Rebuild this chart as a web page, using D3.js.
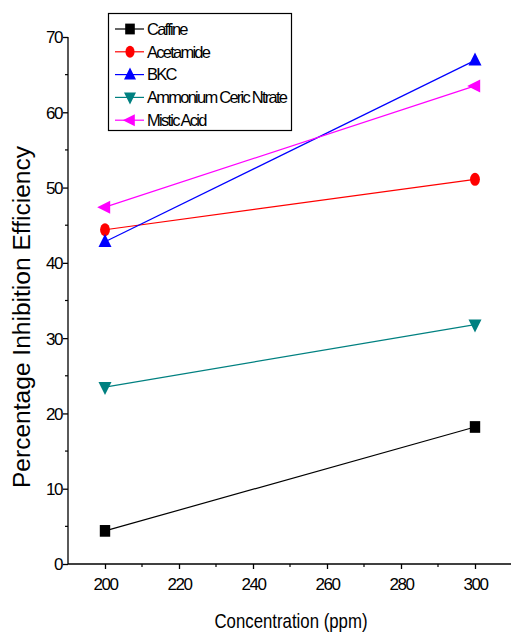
<!DOCTYPE html>
<html><head><meta charset="utf-8">
<script src="https://cdn.jsdelivr.net/npm/d3@7"></script>
<style>body{margin:0;background:#fff}svg{display:block}</style>
</head><body>
<script>
const xValues = [200, 300];
const seriesNames = ["Caffine", "Acetamide", "BKC", "Ammonium Ceric Ntrate", "Mistic Acid"];
const caffine = [4.4, 18.2];
const acetamide = [44.4, 51.1];
const bkc = [42.8, 66.9];
const ammonium = [23.5, 31.8];
const mistic = [47.4, 63.5];
const colors = ["#000000", "#ff0000", "#0000ff", "#008080", "#ff00ff"];
const yTicks = [0, 10, 20, 30, 40, 50, 60, 70];
const xTicks = [200, 220, 240, 260, 280, 300];

const W = 511, H = 639;
const svg = d3.select("body").append("svg").attr("width", W).attr("height", H);
const x = d3.scaleLinear().domain([190, 310]).range([68, 512]);
const y = d3.scaleLinear().domain([0, 70]).range([564, 37]);

const condensed = "'Liberation Sans', Arial, sans-serif";

// y axis
const yAxis = d3.axisLeft(y).tickValues(yTicks).tickSize(5).tickSizeOuter(0);
const gy = svg.append("g").attr("transform", "translate(68,0)").call(yAxis);
gy.select(".domain").attr("d", `M0,${y(0)}V${y(70)}`).attr("stroke", "#000").attr("stroke-width", 1.3);
gy.selectAll(".tick line").attr("stroke-width", 1.3);
gy.selectAll(".tick text").attr("font-family", condensed).attr("font-size", 17)
  .attr("letter-spacing", "-1.5px").attr("x", -6).attr("dy", "0.35em");
const yMinor = d3.range(5, 70, 10);
gy.selectAll(".minor").data(yMinor).enter().append("line")
  .attr("x1", 0).attr("x2", -3).attr("y1", d => y(d)).attr("y2", d => y(d))
  .attr("stroke", "#000").attr("stroke-width", 1.2);

// x axis
const xAxis = d3.axisBottom(x).tickValues(xTicks).tickSize(5).tickSizeOuter(0);
const gx = svg.append("g").attr("transform", `translate(0,${y(0)})`).call(xAxis);
gx.select(".domain").attr("d", `M68,0H511`).attr("stroke", "#000").attr("stroke-width", 1.3);
gx.selectAll(".tick line").attr("stroke-width", 1.3);
gx.selectAll(".tick text").attr("font-family", condensed).attr("font-size", 17)
  .attr("letter-spacing", "-1.5px").attr("y", 14);
const xMinor = d3.range(210, 310, 20);
gx.selectAll(".minor").data(xMinor).enter().append("line")
  .attr("x1", d => x(d)).attr("x2", d => x(d)).attr("y1", 0).attr("y2", 3)
  .attr("stroke", "#000").attr("stroke-width", 1.2);

// labels
svg.append("text").attr("transform", "translate(30,317) rotate(-90)")
  .attr("text-anchor", "middle").attr("font-family", condensed).attr("font-size", 23)
  .attr("textLength", 342).attr("lengthAdjust", "spacingAndGlyphs")
  .text("Percentage Inhibition Efficiency");
svg.append("text").attr("x", 291).attr("y", 628).attr("text-anchor", "middle")
  .attr("font-family", condensed).attr("font-size", 21)
  .attr("textLength", 153).attr("lengthAdjust", "spacingAndGlyphs")
  .text("Concentration (ppm)");

// markers
function marker(g, i, cx, cy, s) {
  const c = colors[i];
  if (i === 0) g.append("rect").attr("x", cx - s * 0.4).attr("y", cy - s * 0.45).attr("width", s * 0.8).attr("height", s * 0.9).attr("fill", c);
  else if (i === 1) g.append("ellipse").attr("cx", cx).attr("cy", cy).attr("rx", s * 0.38).attr("ry", s * 0.5).attr("fill", c);
  else if (i === 2) g.append("path").attr("d", `M${cx},${cy - s * 0.6}L${cx + s * 0.5},${cy + s * 0.4}L${cx - s * 0.5},${cy + s * 0.4}Z`).attr("fill", c);
  else if (i === 3) g.append("path").attr("d", `M${cx},${cy + s * 0.6}L${cx + s * 0.5},${cy - s * 0.4}L${cx - s * 0.5},${cy - s * 0.4}Z`).attr("fill", c);
  else g.append("path").attr("d", `M${cx - s * 0.6},${cy}L${cx + s * 0.4},${cy - s * 0.5}L${cx + s * 0.4},${cy + s * 0.5}Z`).attr("fill", c);
}

const allSeries = [caffine, acetamide, bkc, ammonium, mistic];
const line = d3.line().x((d, j) => x(xValues[j])).y(d => y(d));
allSeries.forEach((vals, i) => {
  const g = svg.append("g");
  g.append("path").attr("d", line(vals)).attr("fill", "none").attr("stroke", colors[i]).attr("stroke-width", 1.2);
  vals.forEach((v, j) => marker(g, i, x(xValues[j]), y(v), 13));
});

// legend
const lg = svg.append("g");
lg.append("rect").attr("x", 108.5).attr("y", 13.5).attr("width", 183).attr("height", 117)
  .attr("fill", "#fff").attr("stroke", "#000").attr("stroke-width", 1.2);
seriesNames.forEach((name, i) => {
  const ly = 29 + i * 22.8;
  lg.append("line").attr("x1", 115).attr("x2", 144).attr("y1", ly).attr("y2", ly).attr("stroke", colors[i]).attr("stroke-width", 1.2);
  marker(lg, i, 130, ly, 12);
  lg.append("text").attr("x", 147).attr("y", ly).attr("dy", "0.35em")
    .attr("font-family", condensed).attr("font-size", 16.5).attr("letter-spacing", "-1.75px").text(name);
});
</script>
</body></html>
